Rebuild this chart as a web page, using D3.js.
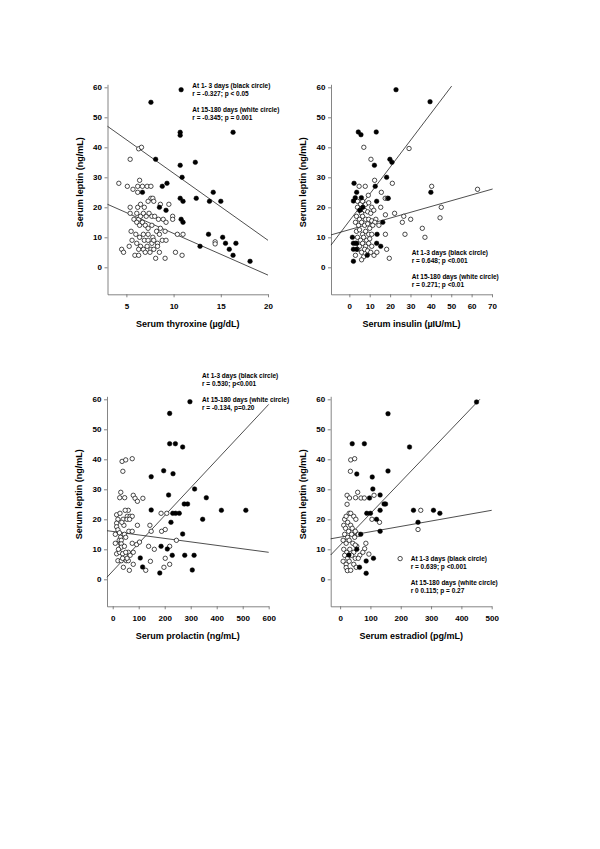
<!DOCTYPE html>
<html><head><meta charset="utf-8">
<script src="https://cdn.jsdelivr.net/npm/d3@7"></script>
<style>
body{margin:0;background:#fff}
text{font-family:"Liberation Sans",Arial,sans-serif;font-weight:bold;fill:#000}
</style>
</head><body><svg id="c" width="600" height="849"></svg>
<script>
// ---------- DATA ----------
const leptinTicks = [0, 10, 20, 30, 40, 50, 60];
const thyroxineTicks = [5, 10, 15, 20];
const insulinTicks = [0, 10, 20, 30, 40, 50, 60, 70];
const prolactinTicks = [0, 100, 200, 300, 400, 500, 600];
const estradiolTicks = [0, 100, 200, 300, 400, 500];

// Panel A: thyroxine (x, leptin)
const thyroxineBlack = [[7.6,55],[10.8,59.2],[10.7,45],[10.7,44],[16.3,45],[8.1,36],[12.3,35],[10.7,34],[10.9,30],[8.8,27],[9.3,28],[6.7,25],[14.2,25],[10.7,23],[12.4,23],[11.0,22],[13.8,22],[15.0,22],[8.5,20],[9.2,19],[10.8,16],[11.0,15],[13.7,11],[15.2,10],[15.5,8],[16.6,8],[15.9,6],[12.8,7],[16.3,4],[18.1,2]];
const thyroxineWhite = [[4.2,28],[5.1,27],[5.7,26],[5.4,36],[6.3,39.5],[6.6,40],[6.4,29],[6.2,27],[6.7,27],[7.2,27],[7.6,27],[6.2,25],[7.6,23],[7.8,23],[5.4,20],[5.4,18],[6.2,20],[6.5,21],[6.9,20],[7.3,22],[7.9,22],[8.6,21],[9.5,21],[5.8,16],[6.1,18],[6.3,16],[6.5,17],[6.8,18],[7.1,17],[7.4,18],[7.7,17],[8.0,17],[8.4,16],[8.9,16],[9.2,15],[9.9,17],[9.9,16],[6.1,15],[6.4,14],[6.7,15],[7.0,14],[7.3,13],[7.7,14],[8.2,12],[8.6,13],[9.1,12],[5.5,12],[6.0,11],[6.4,10],[6.8,11],[7.3,11],[7.8,10],[8.5,11],[10.4,11],[11.0,11],[5.6,9],[6.1,8],[6.5,7],[6.9,9],[7.3,9],[7.7,8],[7.9,9],[8.3,8],[8.8,9],[9.2,9],[6.3,6],[6.8,6],[7.2,7],[7.6,6],[7.9,6],[8.3,7],[4.5,6],[4.7,5],[5.3,7],[5.9,4],[6.3,4],[7.0,5],[7.5,5],[8.1,3],[8.5,5],[9.1,3],[10.2,5],[10.9,4],[14.4,8.5],[14.4,7.8]];
const thyroxineFitBlack = [[3,47],[20,9]];
const thyroxineFitWhite = [[3,21],[20,-2.6]];

// Panel B: insulin
const insulinBlack = [[22.9,59.2],[39.6,55.2],[4.4,45.1],[5.7,44.2],[13.2,45.1],[12.3,34],[19.9,36],[20.9,35],[18.3,30],[2.3,28],[3.6,25],[12.7,27],[2,22.1],[2.9,23.2],[5.9,23.2],[13.4,22],[19.1,23],[40,25],[6.6,20],[5.2,19],[16.4,15],[13.6,11],[1.5,10],[2,8],[3.6,8],[13.4,8],[15.4,7],[2,6],[3.6,6],[8.8,4],[2,2]];
const insulinWhite = [[7.1,40],[10.6,36],[29.3,39.6],[12.4,29],[21.1,28],[4.8,27],[7.8,27],[9.3,24],[15.7,25],[17.6,23],[18.6,23],[22.2,18],[26.7,17],[26,15],[27.3,11],[30.1,16],[17.7,17.5],[35.8,13],[37.1,10],[40.4,27],[45.1,20],[44.5,16.5],[62.9,26],[17.7,11],[18.3,6],[19.6,3],[12.1,4],[15.4,20],[14.5,14],[13,16],[4,22],[5.5,21],[6.5,22],[8,21],[9.5,21.5],[11,20],[4,20],[5,19],[6,18],[7.5,19],[9,18.5],[10.5,18],[12,19],[3.5,17],[5,16],[6.5,17],[8,16],[9.5,16],[11,15.5],[12.5,15],[3,15],[4.5,14],[6,15],[7.5,14],[9,14.5],[10,13],[11.5,14],[3.5,12],[5,12.5],[6.5,11],[8,12],[9.5,11],[11,11],[4,10],[5.5,9],[7,10],[8.5,9],[10,9.5],[3,8],[5,7],[6.5,8],[8,7],[9.5,8],[11,7],[4,6],[6,5],[7.5,6],[9,5.5],[10.5,5],[7,3.5],[6,2.5],[3,4],[13.5,5]];
const insulinFitBlack = [[-9,7.4],[50.2,60.4]];
const insulinFitWhite = [[-9,10.8],[70.3,26.1]];

// Panel C: prolactin
const prolactinBlack = [[297,59.2],[219,55.3],[219,45.2],[241,45.2],[269,44.1],[148,34.2],[196,36.2],[232,35.2],[315,30.1],[215,28.1],[148,23.1],[275,25.1],[288,25.1],[360,27.2],[231,22],[242,22],[256,22],[418,23],[512,23],[224,19],[346,20],[269,15.1],[186,11],[210,10.1],[106,7.1],[229,8],[277,8],[313,8],[115,4.1],[181,2.1],[306,3.1]];
const prolactinWhite = [[36,39.3],[50,39.8],[75,40.2],[39,36],[31,29],[27,27.2],[46,27.2],[79,28],[86,27],[95,26],[116,27],[60,23],[15,21.5],[56,21],[67,21],[75,21],[20,20],[40,20],[55,20],[65,20],[15,18.7],[43,18],[95,18],[143,18],[186,22],[208,22],[15,17.5],[20,16.5],[26,15.5],[188,16],[202,16.6],[148,16],[62,16],[75,16],[245,13],[30,14],[25,13],[30,12],[33,11],[75,12],[92,11.6],[103,12.4],[33,13],[33,11.8],[33,10.7],[138,11],[160,10],[219,11],[15,8.5],[26,9],[38,8.5],[60,9],[67,8],[79,9],[20,6.2],[33,6.2],[52,6.2],[60,6.2],[41,4],[64,3],[79,5],[127,3],[145,6],[202,7],[197,4],[219,5],[10,15],[45,15],[50,14],[35,19],[28,22],[48,23],[10,12],[22,10],[45,11],[55,7],[50,9],[38,7]];
const prolactinFitBlack = [[-22,0.7],[600,58.3]];
const prolactinFitWhite = [[-22,16.2],[600,9]];

// Panel D: estradiol
const estradiolBlack = [[450,59.1],[158,55.2],[40,45.2],[80,45.2],[229,44.1],[55,35.1],[158,36.1],[106,34.1],[108,30.1],[97,27.1],[132,28.1],[145,25.1],[150,25.1],[88,22],[100,22],[132,23],[120,20],[242,23],[308,23],[329,22],[257,19],[132,16],[68,15],[55,10],[29,8.1],[110,7],[86,6.1],[64,4],[86,2]];
const estradiolWhite = [[35,39.8],[48,40.2],[34,36],[23,28],[31,27.1],[51,27.2],[69,27.1],[80,27.1],[58,29],[112,28],[23,25],[105,20],[130,19],[266,23],[257,16.6],[30,22],[35,22],[45,21],[52,20],[15,20],[20,21],[25,19],[35,18],[12,18],[18,17],[28,16],[40,17],[50,16],[60,15],[15,15],[25,14],[38,15],[48,14],[10,13],[20,12],[30,13],[42,12],[55,11],[85,12],[81,10.2],[50,11.4],[198,6.9],[12,10],[22,9],[32,10],[45,9],[15,8],[25,7],[38,8],[50,7],[65,8],[95,8.4],[10,6],[20,5],[30,6],[45,5],[60,7],[20,3.9],[24,2.9],[53,4],[75,9],[35,3]];
const estradiolFitBlack = [[-31,8.1],[461,60]];
const estradiolFitWhite = [[-31,13.5],[500,23.0]];

const yTitle = "Serum leptin (ng/mL)";
const xTitles = ["Serum thyroxine (µg/dL)", "Serum insulin (µIU/mL)", "Serum prolactin (ng/mL)", "Serum estradiol (pg/mL)"];
const notes = [
  ["At 1- 3 days (black circle)", "r = -0.327; p < 0.05", "At 15-180 days (white circle)", "r = -0.345; p = 0.001"],
  ["At 1-3 days (black circle)", "r = 0.648; p <0.001", "At 15-180 days (white circle)", "r = 0.271; p <0.01"],
  ["At 1-3 days (black circle)", "r = 0.530; p<0.001", "At 15-180 days (white circle)", "r = -0.134, p=0.20"],
  ["At 1-3 days (black circle)", "r = 0.639; p <0.001", "At 15-180 days (white circle)", "r 0 0.115; p = 0.27"]
];

// ---------- LAYOUT ----------
const panels = [
  {left:107.5, right:268, top:84.3, bottom:294.3, xd:[3,20], xt:thyroxineTicks, black:thyroxineBlack, white:thyroxineWhite, fb:thyroxineFitBlack, fw:thyroxineFitWhite, nx:192.3, ny:87.5},
  {left:331, right:492, top:84.3, bottom:294.3, xd:[-9,70], xt:insulinTicks, black:insulinBlack, white:insulinWhite, fb:insulinFitBlack, fw:insulinFitWhite, nx:411.7, ny:254.5},
  {left:107, right:268.7, top:396.3, bottom:606.3, xd:[-22,600], xt:prolactinTicks, black:prolactinBlack, white:prolactinWhite, fb:prolactinFitBlack, fw:prolactinFitWhite, nx:202, ny:377.5},
  {left:330.7, right:491.7, top:396.3, bottom:606.3, xd:[-31,500], xt:estradiolTicks, black:estradiolBlack, white:estradiolWhite, fb:estradiolFitBlack, fw:estradiolFitWhite, nx:410.7, ny:561}
];

const svg = d3.select("#c");
svg.append("rect").attr("width",600).attr("height",849).attr("fill","#fff");

panels.forEach((p, i) => {
  const x = d3.scaleLinear().domain(p.xd).range([p.left, p.right]);
  const y = d3.scaleLinear().domain([-9, 61]).range([p.bottom, p.top]);
  const g = svg.append("g");

  const ya = g.append("g").attr("transform", `translate(${p.left},0)`)
    .call(d3.axisLeft(y).tickValues(leptinTicks).tickSize(3).tickSizeOuter(0).tickPadding(2.5));
  const xa = g.append("g").attr("transform", `translate(0,${p.bottom})`)
    .call(d3.axisBottom(x).tickValues(p.xt).tickSize(3).tickSizeOuter(0).tickPadding(6.5));
  [ya, xa].forEach(a => {
    a.selectAll("path,line").attr("stroke", "#666").attr("stroke-width", 0.8);
    a.selectAll("text").style("font-size", "8px").style("font-family", '"Liberation Sans",Arial,sans-serif').style("font-weight", "bold").attr("fill", "#000");
  });

  const line = d3.line().x(d => x(d[0])).y(d => y(d[1]));
  [p.fb, p.fw].forEach(f => g.append("path").attr("d", line(f)).attr("fill","none").attr("stroke","#222").attr("stroke-width",0.8));

  g.selectAll(null).data(p.white).join("circle")
    .attr("cx", d => x(d[0])).attr("cy", d => y(d[1])).attr("r", 2.2)
    .attr("fill", "#fff").attr("stroke", "#000").attr("stroke-width", 0.7);
  g.selectAll(null).data(p.black).join("circle")
    .attr("cx", d => x(d[0])).attr("cy", d => y(d[1])).attr("r", 2.3)
    .attr("fill", "#000").attr("stroke", "#000").attr("stroke-width", 0.5);

  g.append("text").attr("transform", `translate(${p.left-25},${p.top+98}) rotate(-90)`)
    .attr("text-anchor","middle").style("font-size","9px").text(yTitle);
  g.append("text").attr("x", (p.left+p.right)/2).attr("y", p.bottom+32.5)
    .attr("text-anchor","middle").style("font-size","9px").text(xTitles[i]);

  const offs = [0, 8, 24, 32];
  notes[i].forEach((t, k) => g.append("text").attr("x", p.nx).attr("y", p.ny + offs[k])
    .style("font-size","6.5px").text(t));
});
</script>
</body></html>
